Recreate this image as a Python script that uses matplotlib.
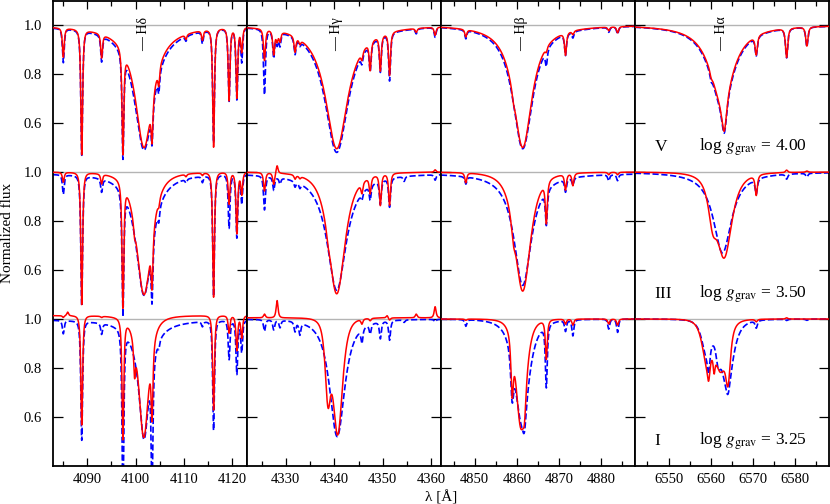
"""
Hydrogen Balmer line profiles (H delta, H gamma, H beta, H alpha) for three
luminosity classes, two model spectra over-plotted in each window.
"""
import numpy as np
import matplotlib.pyplot as plt
from matplotlib.ticker import MultipleLocator

plt.rcParams['font.family'] = ['Liberation Serif', 'DejaVu Serif']
plt.rcParams['mathtext.fontset'] = 'stix'

# Wavelength windows (Angstrom) and the Balmer line in each
lam_lo = [4083.0, 4322.0, 4842.0, 6542.0]
lam_hi = [4123.0, 4362.0, 4888.0, 6588.0]
line_name = ['Hδ', 'Hγ', 'Hβ', 'Hα']
line_lam = [4101.7, 4340.5, 4861.2, 6562.6]
metal_w = [0.28, 0.30, 0.35, 0.40]

# Rows: luminosity class, gravity, vertical offset of the row
lum_class = ['V', 'III', 'I']
log_g = ['4.00', '3.50', '3.25']
row_offset = [0.0, -0.6, -1.2]

# y tick positions and labels (each row reuses 1.0 / 0.8 / 0.6)
ytick_pos = [1.0, 0.8, 0.6, 0.4, 0.2, 0.0, -0.2, -0.4, -0.6]
ytick_lab = ['1.0', '0.8', '0.6'] * 3

# ---- H delta window -------------------------------------------------------
hd_lines = [4085.1, 4086.0, 4088.9, 4093.0, 4097.4, 4099.8, 4103.4,
            4104.8, 4110.4, 4113.8, 4116.1, 4119.3, 4120.9, 4121.9]
hd_red = [[0.12, 0.0, 0.52, 0.10, 0.47, 0.0, 0.24, 0.085, 0.02, 0.04, 0.49, 0.30, 0.29, 0.10],
          [0.04, 0.0, 0.54, 0.04, 0.53, 0.05, 0.28, 0.03, 0.01, 0.01, 0.51, 0.13, 0.25, 0.09],
          [0.007, -0.015, 0.44, 0.005, 0.49, 0.14, 0.32, 0.0, 0.0, 0.0, 0.38, 0.07, 0.14, 0.09]]
hd_blue = [[0.14, 0.0, 0.52, 0.11, 0.48, 0.0, 0.22, 0.093, 0.02, 0.05, 0.47, 0.30, 0.30, 0.14],
           [0.08, 0.0, 0.54, 0.055, 0.55, 0.0, 0.34, 0.06, 0.015, 0.025, 0.50, 0.22, 0.26, 0.12],
           [0.054, 0.0, 0.49, 0.045, 0.75, 0.0, 0.65, 0.03, 0.0, 0.02, 0.45, 0.16, 0.22, 0.13]]
# Balmer core components: (centre, depth, width, power)
hd_red_core = [[(4101.75, 0.50, 2.0, 0.85)],
               [(4101.75, 0.50, 2.4, 1.5)],
               [(4101.7, 0.49, 1.6, 1.5)]]
hd_blue_core = [[(4101.75, 0.51, 2.2, 0.85)],
                [(4101.75, 0.50, 2.0, 1.0)],
                [(4101.75, 0.49, 1.15, 0.8)]]
hd_red_cont = [1.0, 1.0, 1.014]
hd_blue_cont = [1.0, 0.995, 1.0]

# ---- H gamma window -------------------------------------------------------
hg_lines = [4325.6, 4327.5, 4328.2, 4328.8, 4331.9, 4332.9, 4345.7,
            4347.4, 4349.5, 4350.9, 4351.4, 4354.4, 4356.9, 4360.8]
hg_red = [[0.13, 0.10, 0.04, 0.04, 0.066, 0.02, 0.035, 0.124, 0.15, 0.0, 0.18, 0.0, 0.016, 0.033],
          [0.075, 0.048, -0.033, 0.0, 0.017, 0.01, 0.044, 0.068, 0.127, 0.0, 0.13, 0.0, 0.0, -0.01],
          [-0.015, 0.0, -0.07, 0.0, 0.0, 0.0, 0.02, 0.01, 0.0, -0.01, 0.01, 0.0, -0.015, -0.045]]
hg_blue = [[0.27, 0.11, 0.05, 0.055, 0.07, 0.02, 0.04, 0.12, 0.15, 0.0, 0.20, 0.0, 0.02, 0.04],
           [0.14, 0.055, 0.0, 0.025, 0.023, 0.02, 0.03, 0.063, 0.10, 0.0, 0.12, 0.02, 0.0, 0.022],
           [0.047, 0.04, 0.0, 0.03, 0.04, 0.05, 0.06, 0.04, 0.07, 0.0, 0.08, 0.01, 0.0, 0.01]]
hg_red_core = [[(4340.5, 0.505, 2.8, 1.0)],
               [(4340.5, 0.497, 2.65, 1.5), (4338.7, 0.03, 0.4, 1.5)],
               [(4340.7, 0.47, 1.8, 2.0), (4338.7, 0.30, 1.0, 2.0)]]
hg_blue_core = [[(4340.5, 0.52, 2.95, 1.0)],
                [(4340.5, 0.48, 2.4, 1.0)],
                [(4340.6, 0.48, 2.2, 1.3)]]
hg_red_cont = [1.0, 1.0, 1.005]
hg_blue_cont = [1.0, 0.995, 1.0]

# ---- H beta window --------------------------------------------------------
hb_lines = [4847.9, 4867.0, 4871.55, 4873.3, 4881.8, 4883.9]
hb_red = [[0.03, 0.02, 0.094, 0.015, 0.015, 0.025],
          [0.04, 0.175, 0.065, 0.05, 0.01, 0.01],
          [0.005, 0.16, 0.02, 0.025, 0.02, 0.025]]
hb_blue = [[0.035, 0.07, 0.09, 0.025, 0.02, 0.03],
           [0.03, 0.15, 0.053, 0.03, 0.025, 0.025],
           [0.027, 0.26, 0.045, 0.065, 0.04, 0.054]]
hb_red_core = [[(4861.4, 0.50, 2.7, 1.0), (4859.2, 0.03, 0.5, 1.5)],
               [(4861.4, 0.485, 2.85, 1.5), (4859.2, 0.08, 0.7, 1.5)],
               [(4861.0, 0.44, 2.2, 2.0), (4861.8, 0.13, 0.6, 2.0), (4858.9, 0.23, 0.5, 2.0)]]
hb_blue_core = [[(4861.4, 0.505, 2.9, 1.0)],
                [(4861.4, 0.46, 2.5, 1.0)],
                [(4861.2, 0.42, 2.6, 1.5), (4861.8, 0.12, 0.7, 2.0), (4858.9, 0.20, 0.6, 2.0)]]
hb_red_cont = [1.0, 1.0, 1.0]
hb_blue_cont = [1.0, 0.995, 1.0]

# ---- H alpha window -------------------------------------------------------
ha_lines = [6560.1, 6570.8, 6578.0, 6582.8]
ha_red = [[0.02, 0.08, 0.12, 0.078],
          [0.0, 0.083, -0.01, -0.005],
          [0.0, 0.01, -0.005, 0.0]]
ha_blue = [[0.025, 0.08, 0.12, 0.08],
           [0.0, 0.06, 0.02, 0.015],
           [0.0, 0.03, 0.005, 0.005]]
ha_red_core = [[(6562.6, 0.30, 3.5, 1.0), (6563.2, 0.20, 0.9, 1.5)],
               [(6563.2, 0.34, 2.8, 1.5), (6560.5, 0.15, 1.5, 1.5)],
               [(6562.3, 0.20, 2.6, 2.0), (6559.0, 0.15, 2.0, 2.0), (6559.5, 0.10, 0.6, 2.0),
                (6560.8, 0.08, 0.4, 2.0), (6564.1, 0.20, 1.0, 2.0)]]
ha_blue_core = [[(6562.6, 0.31, 3.6, 1.0), (6563.2, 0.20, 0.9, 1.5)],
                [(6562.8, 0.33, 2.6, 1.0)],
                [(6563.9, 0.27, 2.2, 1.5), (6561.8, 0.10, 1.0, 2.0), (6559.0, 0.13, 2.0, 2.0),
                 (6559.5, 0.10, 0.5, 2.0), (6564.1, 0.05, 0.7, 2.0)]]
ha_red_cont = [1.0, 1.0, 1.0]
ha_blue_cont = [1.0, 1.0, 1.0]

windows = [
    (hd_lines, hd_red, hd_blue, hd_red_core, hd_blue_core, hd_red_cont, hd_blue_cont),
    (hg_lines, hg_red, hg_blue, hg_red_core, hg_blue_core, hg_red_cont, hg_blue_cont),
    (hb_lines, hb_red, hb_blue, hb_red_core, hb_blue_core, hb_red_cont, hb_blue_cont),
    (ha_lines, ha_red, ha_blue, ha_red_core, ha_blue_core, ha_red_cont, ha_blue_cont),
]


def profile(lam, center, width, power):
    """Generalised Lorentzian line shape, 1 at the line centre."""
    return (1.0 + ((lam - center) / width) ** 2) ** (-power)


def model_flux(lam, cont, core, lines, depths, width):
    """Continuum times Balmer core components times narrow metal lines."""
    flux = np.full_like(lam, cont)
    for c, d, w, p in core:
        flux *= 1.0 - d * profile(lam, c, w, p)
    for c, d in zip(lines, depths):
        flux *= 1.0 - d * profile(lam, c, width, 1.5)
    return flux


fig, axes = plt.subplots(1, 4, figsize=(8.3, 5.04), dpi=100, sharey=True)
fig.subplots_adjust(left=0.064, right=0.9985, bottom=0.0754, top=0.999, wspace=0)

for j, ax in enumerate(axes):
    lam = np.linspace(lam_lo[j], lam_hi[j], 6000)
    lines, red_d, blue_d, red_core, blue_core, red_cont, blue_cont = windows[j]
    for i, off in enumerate(row_offset):
        ax.axhline(1.0 + off, color='#b4b4b4', lw=1.0, zorder=1)
        f_blue = model_flux(lam, blue_cont[i], blue_core[i], lines, blue_d[i], metal_w[j])
        f_red = model_flux(lam, red_cont[i], red_core[i], lines, red_d[i], metal_w[j])
        ax.plot(lam, f_blue + off, color='blue', ls='--', lw=1.2, zorder=2)
        ax.plot(lam, f_red + off, color='red', lw=1.1, zorder=3)

    ax.text(line_lam[j], 0.895, '— ' + line_name[j], rotation=90,
            ha='center', va='bottom', fontsize=10)

    ax.set_xlim(lam_lo[j], lam_hi[j])
    ax.xaxis.set_major_locator(MultipleLocator(10))
    ax.xaxis.set_minor_locator(MultipleLocator(5))
    ax.tick_params(axis='both', which='both', direction='in', top=True, right=True,
                   labelsize=10.5, width=0.9)
    ax.tick_params(axis='x', which='major', length=6, pad=5)
    ax.tick_params(axis='x', which='minor', length=3.5)
    ax.tick_params(axis='y', which='major', length=7, pad=8)
    for sp in ax.spines.values():
        sp.set_linewidth(1.3)

axes[0].set_ylim(-0.8, 1.1)
axes[0].set_yticks(ytick_pos)
axes[0].set_yticklabels(ytick_lab)

# luminosity class and gravity in the H alpha window
for i, off in enumerate(row_offset):
    axes[3].text(6546.7, 0.487 + off, lum_class[i], fontsize=12.5, va='baseline')
    axes[3].text(6557.2, 0.487 + off, r'log $g_{\rm grav}$ = ' + log_g[i],
                 fontsize=12.5, va='baseline')

fig.text(0.009, 0.538, 'Normalized flux', rotation=90, ha='center', va='center', fontsize=11)
fig.text(0.531, 0.014, 'λ [Å]', ha='center', va='center', fontsize=11)

plt.savefig('out.png', dpi=100)
